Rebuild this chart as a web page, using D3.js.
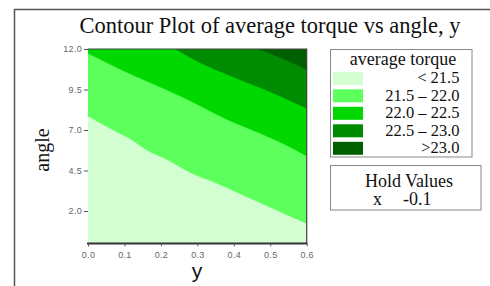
<!DOCTYPE html>
<html><head><meta charset="utf-8">
<script src="https://cdn.jsdelivr.net/npm/d3@7/dist/d3.min.js"></script>
<style>
html,body{margin:0;padding:0;background:#fff;}
svg{display:block;}
</style></head>
<body>
<svg id="c" width="490" height="286"></svg>
<script>
// Contour boundaries: [y, angle]
const b215 = [[0,7.86],[0.069,7.0],[0.12,6.4],[0.161,5.77],[0.22,5.15],[0.252,4.73],[0.3,4.17],[0.344,3.81],[0.385,3.40],[0.435,2.88],[0.477,2.47],[0.527,1.96],[0.6,1.24]];
const b220 = [[0,11.73],[0.083,10.81],[0.175,9.88],[0.266,8.96],[0.385,7.62],[0.477,6.75],[0.55,6.0],[0.6,5.4]];
const b225 = [[0.24,12],[0.30,11.25],[0.385,10.4],[0.477,9.57],[0.6,8.35]];
const b230 = [[0.47,12],[0.53,11.45],[0.6,10.75]];
const boundaries = [b215, b220, b225, b230];
const levelLabels = ["< 21.5","21.5 \u2013 22.0","22.0 \u2013 22.5","22.5 \u2013 23.0",">23.0"];
const levelColors = ["#d2fed2","#5cff5c","#00d800","#008c00","#006000"];
const xTicks = [0,0.1,0.2,0.3,0.4,0.5,0.6];
const yTicks = [2.0,4.5,7.0,9.5,12.0];
const holdName = ["x"];
const holdValue = ["-0.1"];

const svg = d3.select("#c");
const serif = "'Liberation Serif','Times New Roman',serif";
const sans = "'Liberation Sans',Arial,sans-serif";

// outer frame
svg.append("path").attr("d","M14.5,286 L14.5,9.5 L490,9.5").attr("fill","none").attr("stroke","#555").attr("stroke-width",1.5);

const L=88, R=306.7, T=49, B=243.4;
const x = d3.scaleLinear().domain([0,0.6]).range([L,R]);
const y = d3.scaleLinear().domain([0,12]).range([B,T]);

svg.append("defs").append("clipPath").attr("id","pc").append("rect")
  .attr("x",L).attr("y",T).attr("width",R-L).attr("height",B-T);
const g = svg.append("g").attr("clip-path","url(#pc)");
g.append("rect").attr("x",L).attr("y",T).attr("width",R-L).attr("height",B-T).attr("fill",levelColors[0]);
const area = d3.area().x(d=>x(d[0])).y0(y(12)).y1(d=>y(d[1])).curve(d3.curveMonotoneX);
boundaries.forEach((b,i)=>{
  g.append("path").attr("d",area(b)).attr("fill",levelColors[i+1]).attr("stroke",levelColors[i+1]).attr("stroke-width",0.5);
});

// plot borders
svg.append("path").attr("d",`M${L},${T} L${R},${T} L${R},${B}`).attr("fill","none").attr("stroke","#444").attr("stroke-width",1.2);
svg.append("line").attr("x1",L-1).attr("x2",R+0.6).attr("y1",B).attr("y2",B).attr("stroke","#333").attr("stroke-width",2);

// axes
const ax = svg.append("g").attr("transform",`translate(0,${B})`)
  .call(d3.axisBottom(x).tickValues(xTicks).tickFormat(d3.format(".1f")).tickSize(3).tickPadding(5));
ax.select(".domain").remove();
const ay = svg.append("g").attr("transform",`translate(${L},0)`)
  .call(d3.axisLeft(y).tickValues(yTicks).tickFormat(d3.format(".1f")).tickSize(4).tickPadding(2));
ay.select(".domain").remove();
[ax,ay].forEach(a=>{
  a.selectAll("text").attr("font-family",sans).attr("font-size","9px").attr("letter-spacing","0.3px").attr("fill","#666");
  a.selectAll("line").attr("stroke","#555");
});

// titles
svg.append("text").attr("x",270).attr("y",33).attr("text-anchor","middle")
  .attr("font-family",serif).attr("font-size","22.5px").attr("fill","#111")
  .text("Contour Plot of average torque vs angle, y");
svg.append("text").attr("transform","translate(49,150) rotate(-90)").attr("text-anchor","middle")
  .attr("font-family",serif).attr("font-size","20px").attr("fill","#111").text("angle");
svg.append("text").attr("x",197).attr("y",278).attr("text-anchor","middle")
  .attr("font-family",sans).attr("font-size","21px").attr("fill","#111").text("y");

// legend
const lg = svg.append("g");
lg.append("rect").attr("x",330.5).attr("y",49.5).attr("width",141.5).attr("height",107.5)
  .attr("fill","#fff").attr("stroke","#888").attr("stroke-width",1);
lg.append("text").attr("x",403).attr("y",65).attr("text-anchor","middle")
  .attr("font-family",serif).attr("font-size","18px").attr("fill","#111").text("average torque");
levelLabels.forEach((t,i)=>{
  const by = 83.3 + i*17.5;
  lg.append("rect").attr("x",333).attr("y",by-11.5).attr("width",30).attr("height",13).attr("fill",levelColors[i]);
  lg.append("text").attr("x",459.5).attr("y",by).attr("text-anchor","end")
    .attr("font-family",serif).attr("font-size","16.5px").attr("fill","#111").text(t);
});

// hold values
const hv = svg.append("g");
hv.append("rect").attr("x",330.5).attr("y",165.5).attr("width",150.5).attr("height",44.5)
  .attr("fill","#fff").attr("stroke","#888").attr("stroke-width",1);
hv.append("text").attr("x",409).attr("y",186.7).attr("text-anchor","middle")
  .attr("font-family",serif).attr("font-size","18px").attr("fill","#111").text("Hold Values");
holdName.forEach((n,i)=>{
  hv.append("text").attr("x",373).attr("y",205+i*18).attr("font-family",serif).attr("font-size","18px").attr("fill","#111").text(n);
  hv.append("text").attr("x",403).attr("y",205+i*18).attr("font-family",serif).attr("font-size","18px").attr("fill","#111").text(holdValue[i]);
});
</script>
</body></html>
